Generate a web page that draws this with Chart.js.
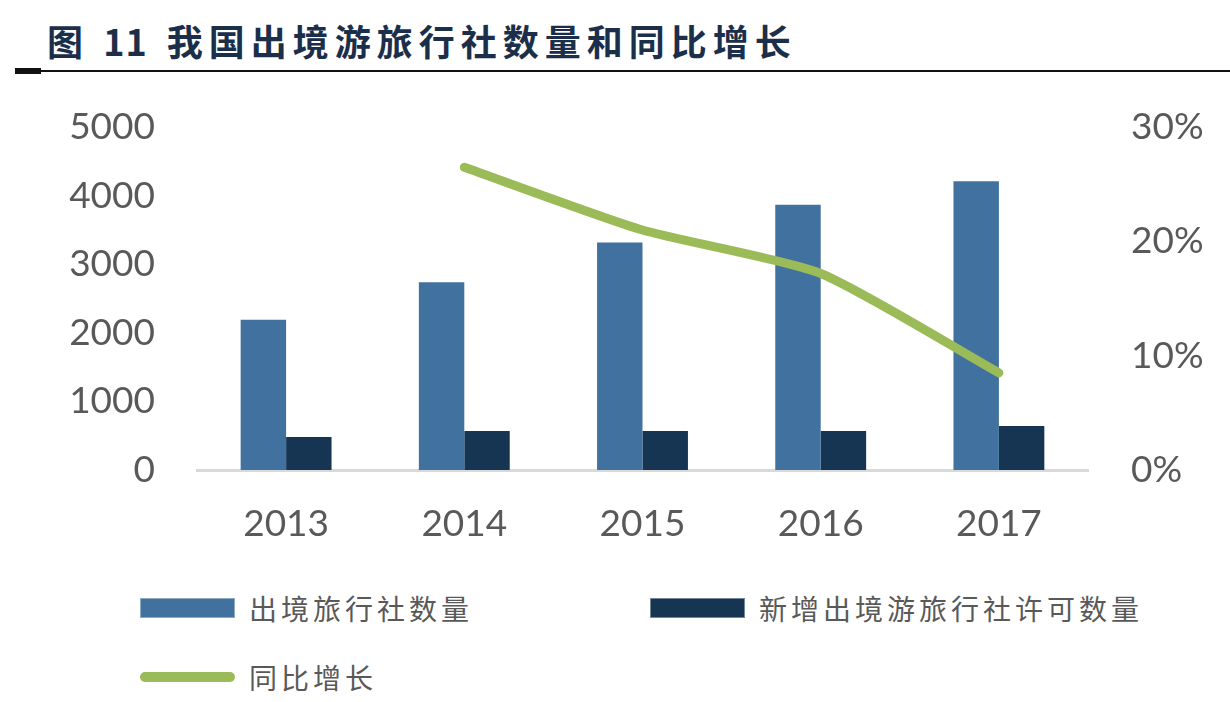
<!DOCTYPE html>
<html>
<head>
<meta charset="utf-8">
<script src="https://cdn.jsdelivr.net/npm/chart.js@4/dist/chart.umd.min.js"></script>
<style>
  body { margin: 0; background: #fff; width: 1230px; height: 702px; position: relative; overflow: hidden; }
  #title { position: absolute; left: 47px; top: 14px; font: bold 36px "Noto Sans CJK SC"; color: #1b2f4a; letter-spacing: 6px; white-space: nowrap; }
  #title .num { letter-spacing: 1px; margin-right: 5px; }
  #rule { position: absolute; left: 15px; top: 70px; width: 1215px; height: 2px; background: #111; }
  #rule2 { position: absolute; left: 15px; top: 68px; width: 26px; height: 6px; background: #111; }
  #wrap { position: absolute; left: 0; top: 62px; width: 1230px; height: 508px; }
  .lg { position: absolute; display: flex; align-items: center; font: 28px "Noto Sans CJK SC"; color: #595959; letter-spacing: 4px; white-space: nowrap; }
  .sw { width: 95px; margin-right: 14px; }
</style>
</head>
<body>
<div id="title">图 <span class="num">11</span> 我国出境游旅行社数量和同比增长</div>
<div id="rule"></div><div id="rule2"></div>
<div id="wrap"><canvas id="c"></canvas></div>
<div id="legend"></div>
<script>
const years = ['2013', '2014', '2015', '2016', '2017'];
const agencies = [2190, 2740, 3320, 3870, 4210];
const newLicences = [480, 570, 570, 570, 640];
const growth = [null, 26.5, 21.0, 17.2, 8.5];
const leftTicks = [0, 5000, 1000];
const rightTicks = [0, 30, 10];

const tickFont = { family: 'Lato', size: 37 };

const ctx = document.getElementById('c').getContext('2d');
const chart = new Chart(ctx, {
  type: 'bar',
  data: {
    labels: years,
    datasets: [
      {
        label: '出境旅行社数量',
        data: agencies,
        backgroundColor: '#41729f',
        yAxisID: 'y',
        order: 1,
        barPercentage: 1,
        categoryPercentage: 0.51
      },
      {
        label: '新增出境游旅行社许可数量',
        data: newLicences,
        backgroundColor: '#163552',
        yAxisID: 'y',
        order: 1,
        barPercentage: 1,
        categoryPercentage: 0.51
      },
      {
        type: 'line',
        label: '同比增长',
        data: growth,
        borderColor: '#9bbb59',
        backgroundColor: '#9bbb59',
        borderWidth: 9,
        borderCapStyle: 'round',
        borderJoinStyle: 'round',
        tension: 0.2,
        pointRadius: 0,
        yAxisID: 'y1',
        order: 0
      }
    ]
  },
  options: {
    responsive: true,
    maintainAspectRatio: false,
    animation: false,
    layout: { padding: { top: 10 } },
    plugins: {
      legend: { display: false },
      tooltip: { enabled: false }
    },
    scales: {
      x: {
        grid: { display: false, drawTicks: false },
        border: { display: true, color: '#d9d9d9', width: 3 },
        ticks: { color: '#595959', font: tickFont, padding: 32 },
        afterFit: s => { s.height = 100; }
      },
      y: {
        position: 'left',
        min: leftTicks[0],
        max: leftTicks[1],
        ticks: { stepSize: leftTicks[2], color: '#595959', font: tickFont, padding: 42, callback: v => String(v) },
        grid: { display: false, drawTicks: false },
        border: { display: false },
        afterFit: s => { s.width = 197; }
      },
      y1: {
        position: 'right',
        min: rightTicks[0],
        max: rightTicks[1],
        ticks: { stepSize: rightTicks[2], color: '#595959', font: tickFont, padding: 43, callback: v => v + '%' },
        grid: { display: false, drawTicks: false },
        border: { display: false },
        afterFit: s => { s.width = 142; }
      }
    }
  }
});

// legend built from the chart's datasets
const spots = [[140, 608], [650, 608], [140, 677]];
const legendEl = document.getElementById('legend');
chart.data.datasets.forEach((ds, i) => {
  const item = document.createElement('div');
  item.className = 'lg';
  item.style.left = spots[i][0] + 'px';
  item.style.top = (spots[i][1] - 20) + 'px';
  item.style.height = '40px';
  const sw = document.createElement('div');
  sw.className = 'sw';
  if (ds.type === 'line') {
    sw.style.height = '10px';
    sw.style.borderRadius = '5px';
    sw.style.background = ds.borderColor;
  } else {
    sw.style.height = '20px';
    sw.style.background = ds.backgroundColor;
    sw.style.boxShadow = '0 0 0 1px rgba(255,255,255,0.4) inset';
  }
  const tx = document.createElement('span');
  tx.textContent = ds.label;
  item.appendChild(sw);
  item.appendChild(tx);
  legendEl.appendChild(item);
});
</script>
</body>
</html>
